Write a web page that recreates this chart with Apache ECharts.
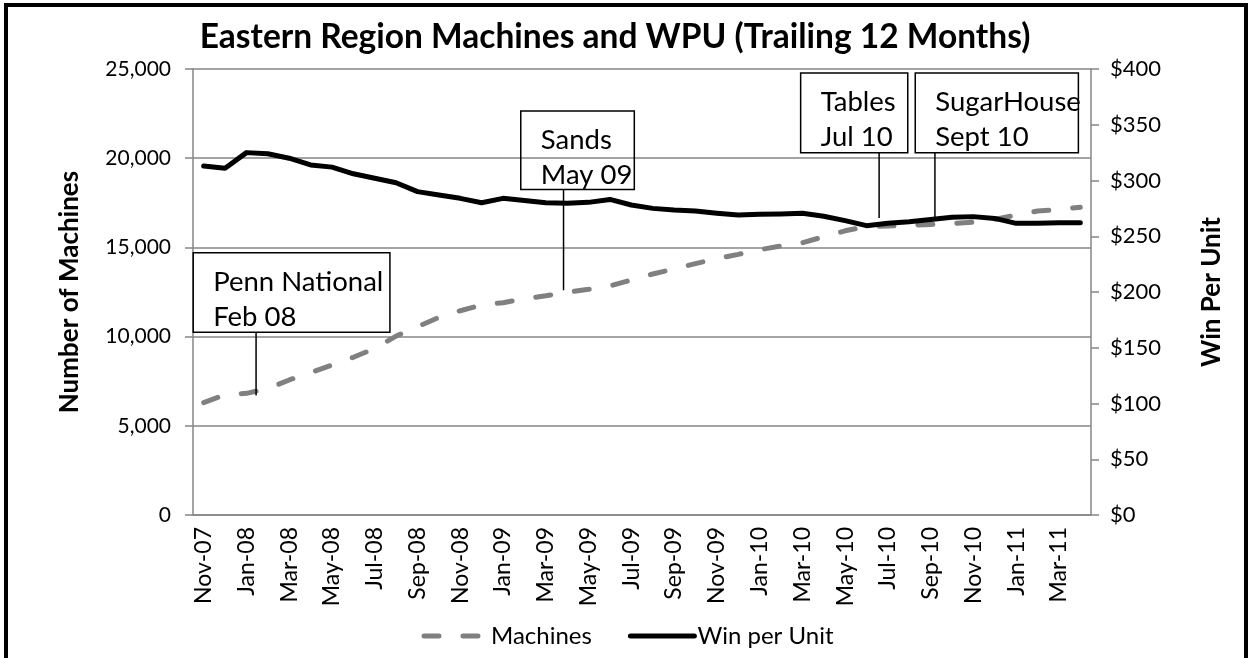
<!DOCTYPE html>
<html>
<head>
<meta charset="utf-8">
<script src="https://cdn.jsdelivr.net/npm/echarts@6/dist/echarts.min.js"></script>
<style>
html,body{margin:0;padding:0;background:#fff;}
#chart{width:1255px;height:658px;}
</style>
</head>
<body>
<div id="chart"></div>
<script>
const months = ['Nov-07','Dec-07','Jan-08','Feb-08','Mar-08','Apr-08','May-08','Jun-08','Jul-08','Aug-08','Sep-08','Oct-08',
  'Nov-08','Dec-08','Jan-09','Feb-09','Mar-09','Apr-09','May-09','Jun-09','Jul-09','Aug-09','Sep-09','Oct-09',
  'Nov-09','Dec-09','Jan-10','Feb-10','Mar-10','Apr-10','May-10','Jun-10','Jul-10','Aug-10','Sep-10','Oct-10',
  'Nov-10','Dec-10','Jan-11','Feb-11','Mar-11','Apr-11'];
const machines = [6300,6740,6820,7080,7570,7980,8410,8840,9340,10030,10550,11080,
  11450,11780,11900,12120,12290,12480,12650,12840,13170,13510,13790,14090,
  14370,14610,14870,15080,15260,15600,15930,16180,16200,16240,16290,16330,
  16420,16570,16810,17040,17130,17250];
const wpu = [313,311,325,324,320,314,312,306,302,298,290,287,
  284,280,284,282,280,279.5,280.4,283,278,275,273.5,272.6,
  270.6,269,269.7,270,270.6,268,264,259.5,261.6,263,265,267,
  267.6,266,261.6,261.6,262,262];
const leftTicks = [0,5000,10000,15000,20000,25000];
const rightTicks = [0,50,100,150,200,250,300,350,400];
const annotNames = ['Penn National','Sands','Tables','SugarHouse'];
const annotDates = ['Feb 08','May 09','Jul 10','Sept 10'];

// layout of callout boxes (category-index / left-axis units)
const annotLayout = [
  {at:2.45, tip:6700, boxL:-0.49, boxR:8.71, top:14700, bottom:10250},
  {at:16.83, tip:12600, boxL:14.83, boxR:20.14, top:22650, bottom:18250},
  {at:31.59, tip:16650, boxL:27.92, boxR:32.93, top:24780, bottom:20300},
  {at:34.2, tip:16600, boxL:33.28, boxR:40.91, top:24780, bottom:20300}
];

const FONT = 'Lato';
const chart = echarts.init(document.getElementById('chart'), null, {renderer:'canvas'});
const option = {
  animation: false,
  backgroundColor: '#fff',
  textStyle: {fontFamily: FONT, color:'#000'},
  title: {
    text: 'Eastern Region Machines and WPU (Trailing 12 Months)',
    left: 610, textAlign: 'center', top: 15,
    textStyle: {fontFamily: FONT, fontSize: 33.5, fontWeight: 'bold', color: '#000'}
  },
  grid: {left:193, right:164, top:69, bottom:143, containLabel:false},
  legend: {
    data: ['Machines','Win per Unit'],
    bottom: 5, left: 'center',
    itemWidth: 64, itemHeight: 1, itemGap: 36,
    itemStyle: {opacity: 0},
    lineStyle: {width: 5},
    textStyle: {fontFamily: FONT, fontSize: 24, color:'#000', padding:[0,0,0,-2]}
  },
  xAxis: {
    type: 'category', data: months, boundaryGap: true,
    axisLine: {lineStyle: {color:'#868686', width:1.5}},
    axisTick: {interval: 1, length: 8, lineStyle: {color:'#868686', width:1.5}},
    axisLabel: {interval: 1, rotate: 90, fontSize: 23, color:'#000', margin: 12, fontFamily: FONT}
  },
  yAxis: [
    {
      type: 'value', min: leftTicks[0], max: leftTicks[leftTicks.length-1], interval: leftTicks[1]-leftTicks[0],
      name: 'Number of Machines', nameLocation: 'middle', nameGap: 110, nameRotate: 90,
      nameTextStyle: {fontFamily: FONT, fontWeight: 'bold', fontSize: 26, color:'#000'},
      axisLine: {show: true, lineStyle: {color:'#868686', width:1.5}},
      axisTick: {show: true, length: 8, lineStyle: {color:'#868686', width:1.5}},
      splitLine: {show: true, lineStyle: {color:'#868686', width:1.5}},
      axisLabel: {fontSize: 21, color:'#000', margin: 22, fontFamily: FONT,
        formatter: v => v.toLocaleString('en-US')}
    },
    {
      type: 'value', position: 'right', min: rightTicks[0], max: rightTicks[rightTicks.length-1], interval: rightTicks[1]-rightTicks[0],
      name: 'Win Per Unit', nameLocation: 'middle', nameGap: 108, nameRotate: 90,
      nameTextStyle: {fontFamily: FONT, fontWeight: 'bold', fontSize: 26, color:'#000'},
      axisLine: {show: true, lineStyle: {color:'#868686', width:1.5}},
      axisTick: {show: true, length: 8, lineStyle: {color:'#868686', width:1.5}},
      splitLine: {show: false},
      axisLabel: {fontSize: 22, color:'#000', margin: 19, fontFamily: FONT,
        formatter: v => '$' + v}
    }
  ],
  series: [
    {
      name: 'Machines', type: 'line', yAxisIndex: 0, data: machines,
      symbol: 'none', showSymbol: false,
      itemStyle: {color:'#808080'},
      lineStyle: {color:'#808080', width: 5, type: [15, 24], cap: 'round'},
      z: 2
    },
    {
      name: 'Win per Unit', type: 'line', yAxisIndex: 1, data: wpu,
      symbol: 'none', showSymbol: false,
      itemStyle: {color:'#000'},
      lineStyle: {color:'#000', width: 5, cap: 'round', join: 'round'},
      z: 3
    }
  ]
};
chart.setOption(option);

const x0 = chart.convertToPixel({xAxisIndex:0}, months[0]);
const x1 = chart.convertToPixel({xAxisIndex:0}, months[1]);
const xAt = i => x0 + i * (x1 - x0);
const yAt = v => chart.convertToPixel({yAxisIndex:0}, v);

const graphics = [
  {type:'rect', shape:{x:6, y:5, width:1240, height:700}, style:{fill:'none', stroke:'#000', lineWidth:4}, z:100}
];
annotLayout.forEach((a, k) => {
  const L = xAt(a.boxL), R = xAt(a.boxR), T = yAt(a.top), B = yAt(a.bottom);
  graphics.push({type:'rect', shape:{x:L, y:T, width:R-L, height:B-T},
    style:{fill:'none', stroke:'#000', lineWidth:1.5}, z:50});
  graphics.push({type:'text', x: L + 20, y: (T+B)/2 + 7,
    style:{text: annotNames[k] + '\n' + annotDates[k], fill:'#000', fontFamily: FONT, fontSize: 27.5,
      lineHeight: 35, verticalAlign:'middle', align:'left'}, z:51});
  const lx = xAt(a.at);
  graphics.push({type:'line', shape:{x1:lx, y1:B, x2:lx, y2:yAt(a.tip)},
    style:{stroke:'#000', lineWidth:1.5}, z:50});
});
chart.setOption({graphic: graphics});
</script>
</body>
</html>
